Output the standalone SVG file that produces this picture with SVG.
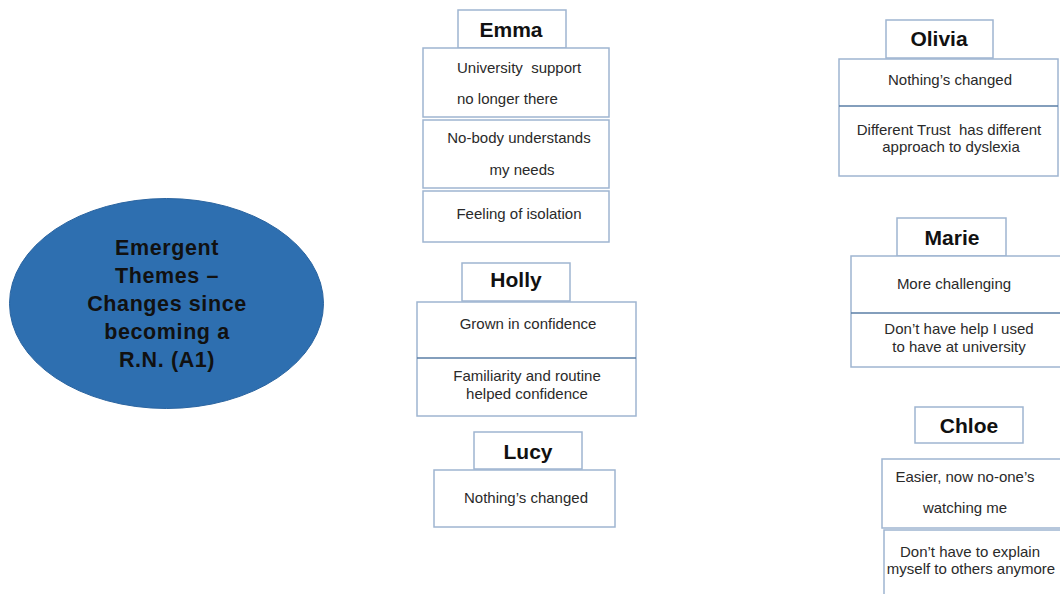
<svg xmlns="http://www.w3.org/2000/svg" width="1060" height="594" viewBox="0 0 1060 594">
<style>
.box{fill:#ffffff;stroke:#9fb5d1;stroke-width:1.5}
.sep{stroke:#5a7ea6;stroke-width:1.5}
.hd{font-family:"Liberation Sans",Arial,sans-serif;font-weight:bold;font-size:21px;fill:#111;text-anchor:middle}
.t{font-family:"Liberation Sans",Arial,sans-serif;font-size:15px;fill:#2a2a2a;text-anchor:middle;white-space:pre}
.ct{font-family:"Liberation Sans",Arial,sans-serif;font-weight:bold;font-size:21.5px;fill:#111;text-anchor:middle;letter-spacing:0.6px}
</style>
<rect width="1060" height="594" fill="#ffffff"/>
<g id="connectors"></g>
<g id="centre">
<ellipse cx="166.5" cy="303.5" rx="157" ry="105" fill="#2e6fb0" stroke="#2a64a0" stroke-width="1"/>
<text class="ct" x="167" y="255">Emergent</text>
<text class="ct" x="167" y="283">Themes –</text>
<text class="ct" x="167" y="311">Changes since</text>
<text class="ct" x="167" y="339">becoming a</text>
<text class="ct" x="167" y="367">R.N. (A1)</text>
</g>
<g id="emma">
<rect class="box" x="458" y="10" width="108" height="38"/>
<text class="hd" x="511" y="37">Emma</text>
<rect class="box" x="423" y="48" width="186" height="69"/>
<text class="t" x="457" y="73" style="text-anchor:start" xml:space="preserve">University  support</text>
<text class="t" x="457" y="104" style="text-anchor:start">no longer there</text>
<rect class="box" x="423" y="120" width="186" height="68"/>
<text class="t" x="519" y="143">No-body understands</text>
<text class="t" x="522" y="175">my needs</text>
<rect class="box" x="423" y="191" width="186" height="51"/>
<text class="t" x="519" y="219">Feeling of isolation</text>
</g>
<g id="holly">
<rect class="box" x="462" y="263" width="108" height="38"/>
<text class="hd" x="516" y="287">Holly</text>
<rect class="box" x="417" y="302" width="219" height="114"/>
<line class="sep" x1="417" y1="358" x2="636" y2="358"/>
<text class="t" x="528" y="329">Grown in confidence</text>
<text class="t" x="527" y="381">Familiarity and routine</text>
<text class="t" x="527" y="399">helped confidence</text>
</g>
<g id="lucy">
<rect class="box" x="474" y="432" width="108" height="37"/>
<text class="hd" x="528" y="459">Lucy</text>
<rect class="box" x="434" y="470" width="181" height="57"/>
<text class="t" x="526" y="503">Nothing’s changed</text>
</g>
<g id="olivia">
<rect class="box" x="886" y="20" width="107" height="38"/>
<text class="hd" x="939" y="46">Olivia</text>
<rect class="box" x="839" y="59" width="219" height="117"/>
<line class="sep" x1="839" y1="106" x2="1058" y2="106"/>
<text class="t" x="950" y="85">Nothing’s changed</text>
<text class="t" x="949" y="135" xml:space="preserve">Different Trust  has different</text>
<text class="t" x="951" y="152">approach to dyslexia</text>
</g>
<g id="marie">
<rect class="box" x="897" y="218" width="109" height="38"/>
<text class="hd" x="952" y="245">Marie</text>
<rect class="box" x="851" y="256" width="220" height="111"/>
<line class="sep" x1="851" y1="313" x2="1060" y2="313"/>
<text class="t" x="954" y="289">More challenging</text>
<text class="t" x="959" y="334">Don’t have help I used</text>
<text class="t" x="959" y="352">to have at university</text>
</g>
<g id="chloe">
<rect class="box" x="915" y="407" width="108" height="36"/>
<text class="hd" x="969" y="433">Chloe</text>
<rect class="box" x="882" y="459" width="190" height="69"/>
<text class="t" x="965" y="482">Easier, now no-one’s</text>
<text class="t" x="965" y="513">watching me</text>
<rect class="box" x="884" y="530" width="190" height="80"/>
<text class="t" x="970" y="557">Don’t have to explain</text>
<text class="t" x="971" y="574">myself to others anymore</text>
</g>
</svg>
